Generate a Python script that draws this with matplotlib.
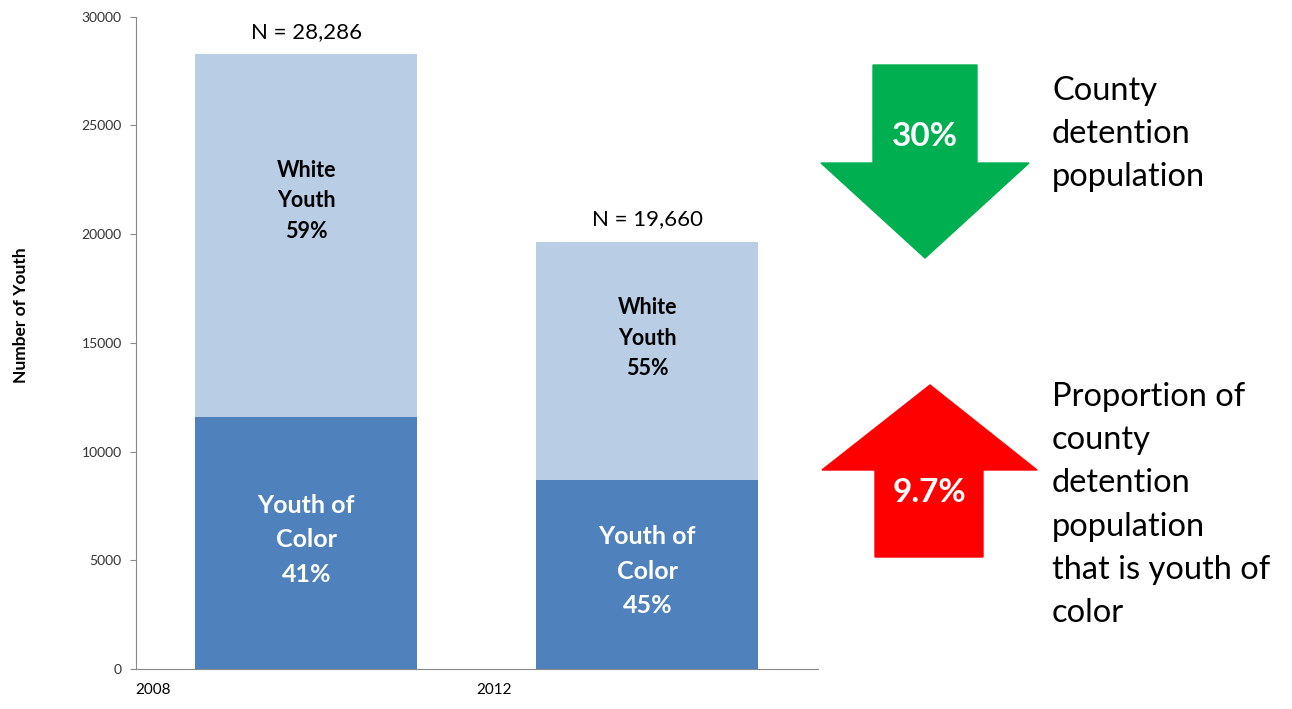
import matplotlib.pyplot as plt
from matplotlib.patches import Polygon

years = ['2008', '2012']
totals = [28286, 19660]
youth_of_color = [11600, 8700]
white_youth = [t - c for t, c in zip(totals, youth_of_color)]
pct_color = ['41%', '45%']
pct_white = ['59%', '55%']
change_total = '30%'
change_color = '9.7%'

light_blue = '#B9CDE5'
dark_blue = '#4F81BD'

plt.rcParams['font.family'] = ['Lato', 'DejaVu Sans']

fig = plt.figure(figsize=(12.92, 7.09), dpi=100)
ax = fig.add_axes([0.105, 0.0564, 0.528, 0.92])

x = [0, 1]
ax.bar(x, youth_of_color, width=0.65, color=dark_blue)
ax.bar(x, white_youth, width=0.65, bottom=youth_of_color, color=light_blue)

for i in range(len(x)):
    ax.text(x[i], youth_of_color[i] / 2 + 150, 'Youth of\nColor\n' + pct_color[i],
            ha='center', va='center', color='white', fontsize=18,
            fontweight='bold', linespacing=1.6)
    ax.text(x[i], youth_of_color[i] + white_youth[i] * 0.595,
            'White\nYouth\n' + pct_white[i], ha='center', va='center',
            color='black', fontsize=15.5, fontweight='bold', linespacing=1.55)
    ax.text(x[i], totals[i] + 550, 'N = {:,}'.format(totals[i]),
            ha='center', va='bottom', fontsize=16)

ax.set_xlim(-0.5, 1.5)
ax.set_ylim(0, 30000)
ax.set_yticks(range(0, 30001, 5000))
ax.set_xticks([-0.5, 0.5])
ax.set_xticklabels(years, ha='left', fontsize=11)
ax.tick_params(axis='x', length=0, pad=10)
ax.tick_params(axis='y', labelsize=10, colors='#333333', length=4,
               color='#888888', pad=6)
for s in ['top', 'right']:
    ax.spines[s].set_visible(False)
for s in ['left', 'bottom']:
    ax.spines[s].set_color('#888888')
fig.text(0.016, 0.556, 'Number of Youth', rotation=90, ha='center', va='center',
         fontsize=12.5, fontweight='bold')

# overlay in pixel coordinates for arrows and notes
ov = fig.add_axes([0, 0, 1, 1])
ov.set_xlim(0, 1292)
ov.set_ylim(709, 0)
ov.axis('off')

down = [(873, 65), (977, 65), (977, 163), (1029, 163), (925, 258),
        (821, 163), (873, 163)]
ov.add_patch(Polygon(down, closed=True, color='#00B050'))
up = [(930, 385), (1037, 470), (983, 470), (983, 557), (875, 557),
      (875, 470), (822, 470)]
ov.add_patch(Polygon(up, closed=True, color='#FF0000'))
ov.text(925, 137, change_total, ha='center', va='center', color='white',
        fontsize=24, fontweight='bold')
ov.text(929, 493, change_color, ha='center', va='center', color='white',
        fontsize=24, fontweight='bold')

ov.text(1052, 134, 'County\ndetention\npopulation', ha='left', va='center',
        fontsize=23.5, linespacing=1.55)
ov.text(1052, 505, 'Proportion of\ncounty\ndetention\npopulation\nthat is youth of\ncolor',
        ha='left', va='center', fontsize=23.5, linespacing=1.55)

fig.savefig('out.png', dpi=100)
